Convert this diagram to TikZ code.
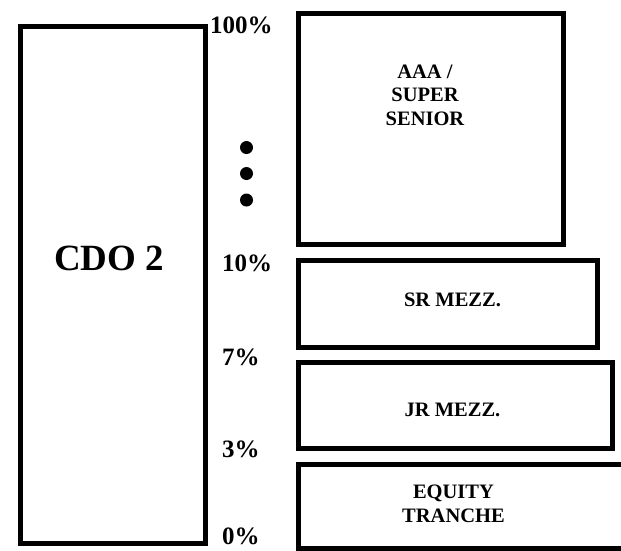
\documentclass[tikz,border=0pt]{standalone}
\usepackage{fontspec}
\setmainfont{Liberation Serif}
\usetikzlibrary{positioning}
\tikzset{
  tranche/.style={draw, line width=5pt, inner sep=0pt, anchor=north west},
  tlabel/.style={font=\bfseries\fontsize{20.5}{23.5}\selectfont, align=center, inner sep=0pt},
  pct/.style={font=\bfseries\fontsize{25}{28}\selectfont, anchor=base west, inner sep=0pt}
}

\begin{document}
\begin{tikzpicture}[x=1pt,y=-1pt]
\useasboundingbox (0,0) rectangle (621,550);
\clip (0,0) rectangle (621,550);

%---------------- collateral: the CDO -----------------
\node[tranche, minimum width=185pt, minimum height=516.5pt] (cdo) at (17.5,24) {};
\node[font=\bfseries\fontsize{37}{40}\selectfont, anchor=base, inner sep=0pt] (cdoname) at (109,270) {CDO 2};

%---------------- attachment points -----------------
\node[pct] (p100) at (210,33) {100\%};
\node[pct] (p10) at (222,271) {10\%};
\node[pct] (p7) at (222,365) {7\%};
\node[pct] (p3) at (222,457) {3\%};
\node[pct] (p0) at (222,544.5) {0\%};
% ellipsis between 100% and 10%
\foreach \y in {147.5,173.5,200} \fill (246.5,\y) circle (6.5pt);

%---------------- tranches -----------------
\node[tranche, minimum width=265.5pt, minimum height=231.5pt] (aaa) at (295.5,10.5) {};
\node[tlabel] (aaatxt) at (425,95) {AAA /\\ SUPER\\ SENIOR};

\node[tranche, minimum width=299pt, minimum height=87pt] (srm) at (295.5,257.5) {};
\node[tlabel, anchor=base] (srmtxt) at (452.5,306.5) {SR MEZZ.};

\node[tranche, minimum width=314pt, minimum height=86pt] (jrm) at (295.5,359.5) {};
\node[tlabel, anchor=base] (jrmtxt) at (452.5,416.5) {JR MEZZ.};

\node[tranche, minimum width=334.5pt, minimum height=84pt] (eqt) at (295.5,461.5) {};
\node[tlabel] (eqttxt) at (453.5,504) {EQUITY\\ TRANCHE};

\end{tikzpicture}
\end{document}
